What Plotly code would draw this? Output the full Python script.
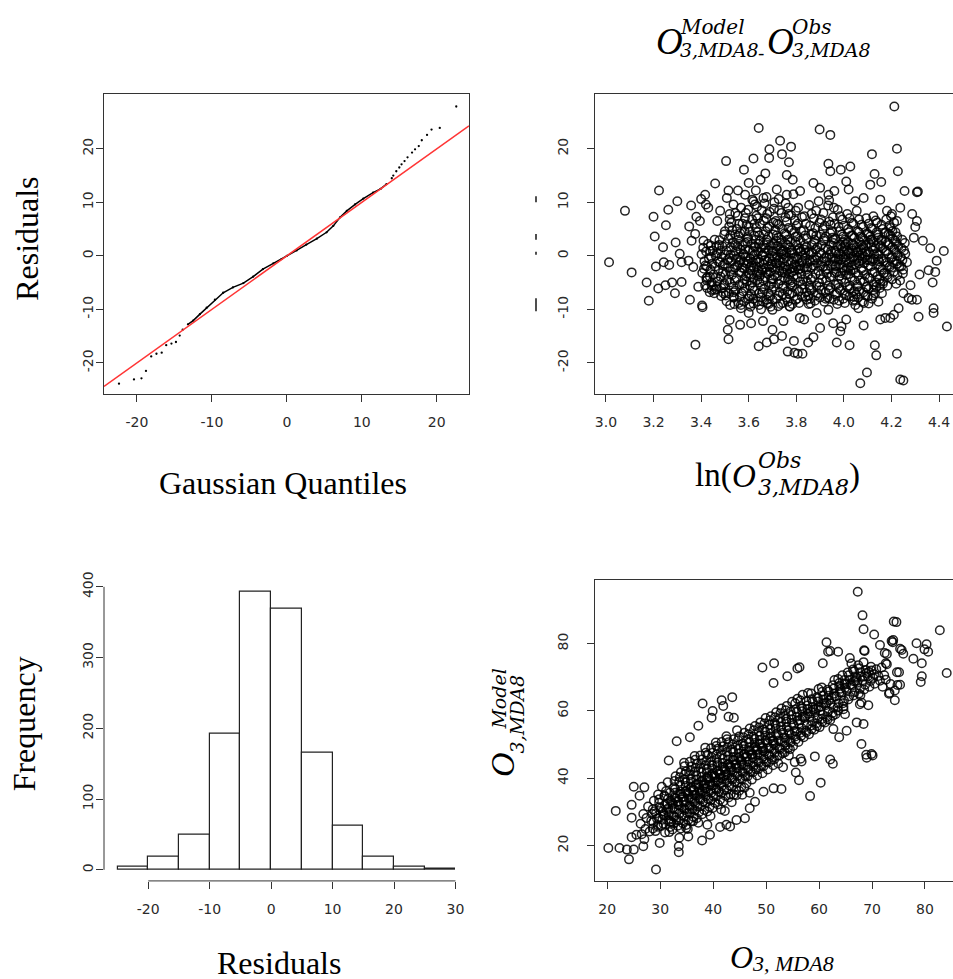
import plotly.graph_objects as go

W, H = 953, 979

# ---------------- data ----------------
# QQ plot: (Gaussian quantile, sorted residual)
qq_points = [
    (-22.4, -23.9), (-20.4, -23.1), (-19.4, -22.9), (-18.8, -21.5), (-18.1, -18.8),
    (-17.4, -18.3), (-16.7, -18.1), (-16.1, -16.7), (-15.4, -16.4), (-14.8, -16.1),
    (-14.3, -14.9), (-13.9, -13.8), (-13.2, -12.8), (-12.5, -12.1), (-11.6, -10.9),
    (-10.7, -9.7), (-9.6, -8.2), (-8.5, -6.9), (-7.2, -5.9), (-5.8, -5.1),
    (-4.5, -3.9), (-3.2, -2.5), (-1.8, -1.4), (-0.7, -0.6), (0.0, 0.0),
    (1.3, 1.0), (2.6, 2.1), (4.0, 3.2), (5.3, 4.4), (6.2, 5.6),
    (7.1, 7.2), (8.0, 8.4), (9.1, 9.6), (10.2, 10.7), (11.5, 11.8),
    (12.5, 12.5), (13.3, 13.4), (14.0, 14.5), (14.2, 15.0), (14.6, 15.8),
    (15.0, 16.5), (15.3, 17.1), (15.7, 17.7), (16.1, 18.4), (16.7, 19.3),
    (17.1, 19.9), (17.6, 20.5), (18.0, 21.6), (18.7, 22.6), (19.3, 23.6),
    (20.4, 23.9), (22.6, 27.9),
]
qq_line_intercept = 0.0
qq_line_slope = 1.0

# Histogram of residuals
hist_edges = [-25, -20, -15, -10, -5, 0, 5, 10, 15, 20, 25, 30]
hist_counts = [4, 18, 49, 193, 393, 369, 166, 62, 18, 5, 1]

# Residuals vs ln(O3 obs): scattered points
resid_outer = [
    (3.013, -1.2), (3.080, 8.4), (3.108, -3.1), (3.171, -5.0), (3.180, -8.4), (3.200, 7.3),
    (3.205, 3.6), (3.210, -2.0), (3.220, -6.1), (3.223, 12.2), (3.240, 1.6), (3.252, 5.7),
    (3.262, 8.6), (3.243, -1.2), (3.250, -5.5), (3.266, -1.7), (3.278, -5.0), (3.290, -7.0),
    (3.293, 2.5), (3.300, 10.2), (3.310, 0.4), (3.318, -1.2), (3.318, -4.9), (3.353, -8.2),
    (3.358, 9.4), (3.350, 5.5), (3.376, -16.6), (3.380, 7.3), (3.400, 10.6), (3.404, -9.3),
    (3.406, -9.6), (3.395, 6.5), (3.420, 9.6), (3.459, 13.5), (3.505, 17.7), (3.515, 12.2),
    (3.515, -15.6), (3.512, -13.8), (3.520, -12.0), (3.522, -9.2), (3.555, 12.2), (3.564, -12.9),
    (3.580, 16.1), (3.600, 13.6), (3.610, -12.6), (3.620, 18.2), (3.630, 12.2), (3.642, 23.9),
    (3.642, -16.9), (3.650, 14.2), (3.660, -12.2), (3.670, 15.4), (3.676, -16.2), (3.687, 19.9),
    (3.686, 18.3), (3.700, -13.8), (3.706, -15.6), (3.732, 21.5), (3.740, 19.0), (3.740, -15.0),
    (3.746, -12.2), (3.769, 17.5), (3.760, 15.1), (3.778, 20.4), (3.785, 14.2), (3.764, -17.9),
    (3.790, -15.9), (3.792, -18.1), (3.806, -18.3), (3.826, -18.3), (3.833, -11.9), (3.850, -16.2),
    (3.872, -15.2), (3.898, 23.6), (3.900, -13.5), (3.935, 17.2), (3.943, 15.8), (3.943, 22.6),
    (3.970, -16.2), (3.987, 16.1), (3.985, -14.1), (4.024, -16.7), (4.027, 16.7), (4.069, -23.8),
    (4.083, -13.0), (4.097, -21.8), (4.118, 19.0), (4.129, 15.3), (4.130, -16.7), (4.136, -18.6),
    (4.157, 13.8), (4.153, -11.9), (4.195, -11.6), (4.212, 27.9), (4.223, 20.0), (4.227, 15.8),
    (4.223, -18.3), (4.237, -23.1), (4.250, -23.3), (4.255, 12.1), (4.307, 11.9), (4.311, 12.0),
    (4.314, -11.4), (4.318, -3.5), (4.332, 2.8), (4.363, 1.4), (4.356, -2.7), (4.373, -5.0),
    (4.377, -9.8), (4.377, -10.7), (4.390, -0.9), (4.384, -3.0), (4.420, 0.9), (4.433, -13.2),
    (4.307, -8.2), (4.286, -8.2), (4.272, -7.9), (4.280, -5.5), (4.294, 3.4), (4.287, 7.8),
    (4.307, 6.5), (4.300, 5.4), (4.237, 9.0), (4.230, -9.8), (4.210, -11.0), (4.220, -5.2),
    (4.250, -7.0), (4.174, -11.6), (4.145, -8.6), (4.104, -8.9), (4.061, -9.8), (4.040, -7.6),
    (4.010, -11.9), (3.990, -13.2), (3.955, -12.6), (3.935, -10.1), (3.886, -10.7), (3.860, -8.9),
    (3.815, -11.6), (3.773, -9.5), (3.700, -10.1), (3.676, -8.2), (3.620, -8.9), (3.600, -10.7),
    (3.567, -9.8), (3.536, -7.6), (3.494, -7.0), (3.466, -5.8), (3.445, -6.4), (3.424, -4.6),
    (3.388, -5.8), (3.367, -2.1), (3.347, -0.9), (3.360, 2.8), (3.375, 4.1), (3.410, 2.8),
    (3.417, 11.4), (3.430, 9.0), (3.480, 8.4), (3.520, 7.8), (3.508, 10.8), (3.536, 9.6),
    (3.585, 11.4), (3.620, 10.2), (3.662, 10.8), (3.718, 12.4), (3.760, 11.4), (3.816, 12.1),
    (3.872, 13.6), (3.900, 12.7), (3.935, 11.4), (3.960, 12.1), (4.010, 13.9), (4.020, 12.4),
    (4.048, 10.2), (4.083, 10.8), (4.111, 13.3), (4.153, 10.5), (4.181, 8.4), (4.202, 7.8),
    (4.223, 6.5), (4.188, 4.1), (4.160, 2.8), (4.202, -0.2), (4.181, -1.8), (4.223, -1.5),
    (4.258, 0.4), (4.265, -1.2), (4.248, -3.3), (4.167, -3.3), (4.153, -5.2), (4.125, -6.4),
]
# Residuals vs ln(O3 obs): dense core, first pass
resid_core = [
    (3.405, -3.2), (3.414, -1.0), (3.409, 1.5), (3.417, -5.5), (3.402, 0.3), (3.412, -2.4),
    (3.426, -4.0), (3.433, -0.5), (3.429, 2.2), (3.436, -6.8), (3.424, -2.0), (3.438, 0.9),
    (3.446, -1.5), (3.452, -3.5), (3.449, 1.0), (3.455, -7.0), (3.444, -5.0), (3.457, 3.0),
    (3.466, 0.5), (3.473, -2.8), (3.469, -4.8), (3.476, 2.0), (3.463, -6.2), (3.471, -1.0), (3.468, 6.5),
    (3.486, -0.2), (3.492, -3.0), (3.489, 1.8), (3.495, -5.5), (3.484, -7.5), (3.497, 4.0), (3.491, -1.8),
    (3.506, 1.0), (3.513, -2.2), (3.509, -4.5), (3.516, 3.2), (3.503, -6.8), (3.511, -0.8), (3.518, 5.5), (3.507, -8.5),
    (3.526, -1.0), (3.533, 2.5), (3.529, -3.6), (3.536, -5.8), (3.524, 0.2), (3.531, 4.8), (3.538, -7.8), (3.527, 6.2), (3.534, -2.5),
    (3.546, 0.8), (3.553, -1.8), (3.549, -4.2), (3.556, 3.0), (3.544, -6.5), (3.551, 5.0), (3.558, -8.8), (3.547, -0.5), (3.554, 7.5), (3.552, 1.8),
    (3.566, -0.8), (3.573, 2.0), (3.569, -3.2), (3.576, -5.2), (3.564, 4.2), (3.571, -7.0), (3.578, 0.4), (3.567, -9.2), (3.574, 6.0), (3.572, -2.2), (3.568, 9.0),
    (3.586, 1.2), (3.593, -1.5), (3.589, -3.8), (3.596, 3.5), (3.584, -6.0), (3.591, 5.8), (3.598, -8.0), (3.587, -0.2), (3.594, 2.6), (3.592, -4.8), (3.588, 8.0),
    (3.606, -0.5), (3.613, 2.2), (3.609, -2.8), (3.616, -5.0), (3.604, 4.5), (3.611, -7.2), (3.618, 0.9), (3.607, -9.5), (3.614, 6.8), (3.612, -1.8), (3.608, -4.0), (3.615, 10.5),
    (3.626, 0.3), (3.633, -2.0), (3.629, 3.0), (3.636, -4.5), (3.624, -6.5), (3.631, 5.2), (3.638, -8.5), (3.627, 1.6), (3.634, -3.2), (3.632, 7.5), (3.628, -0.9), (3.635, 9.2),
    (3.646, -1.2), (3.653, 1.5), (3.649, -3.5), (3.656, -5.8), (3.644, 3.8), (3.651, -7.8), (3.658, 0.0), (3.647, 6.0), (3.654, -2.5), (3.652, -10.0), (3.648, 2.8), (3.655, 8.5),
    (3.666, 0.6), (3.673, -2.2), (3.669, -4.0), (3.676, 2.5), (3.664, -6.2), (3.671, 4.6), (3.678, -8.8), (3.667, -0.8), (3.674, 7.0), (3.672, -3.0), (3.668, 1.4), (3.675, 11.0),
    (3.686, -0.4), (3.693, 1.9), (3.689, -3.0), (3.696, -5.2), (3.684, 3.6), (3.691, -7.5), (3.698, 0.8), (3.687, 5.5), (3.694, -1.6), (3.692, -9.5), (3.688, 8.2), (3.695, -4.4),
    (3.706, 0.9), (3.713, -1.4), (3.709, -3.6), (3.716, 2.8), (3.704, -5.8), (3.711, 4.8), (3.718, -8.0), (3.707, -0.2), (3.714, 6.5), (3.712, -2.6), (3.708, 10.0), (3.715, 1.8),
    (3.726, -0.8), (3.733, 1.2), (3.729, -2.8), (3.736, -4.6), (3.724, 3.4), (3.731, -6.8), (3.738, 0.4), (3.727, 5.8), (3.734, -9.0), (3.732, -1.8), (3.728, 8.5), (3.735, 2.4),
    (3.746, 0.2), (3.753, -2.0), (3.749, -4.2), (3.756, 2.2), (3.744, -6.0), (3.751, 4.2), (3.758, -7.8), (3.747, -0.6), (3.754, 7.2), (3.752, -3.2), (3.748, 1.0), (3.755, 9.8),
    (3.766, -1.0), (3.773, 1.6), (3.769, -3.4), (3.776, -5.4), (3.764, 3.0), (3.771, -7.2), (3.778, 0.6), (3.767, 5.2), (3.774, -2.4), (3.772, -9.4), (3.768, 7.8), (3.775, -4.6),
    (3.786, 0.4), (3.793, -1.6), (3.789, -3.8), (3.796, 2.6), (3.784, -5.8), (3.791, 4.4), (3.798, -8.2), (3.787, -0.4), (3.794, 6.6), (3.792, -2.8), (3.788, 11.5),
    (3.806, -0.6), (3.813, 1.4), (3.809, -2.6), (3.816, -4.8), (3.804, 3.6), (3.811, -6.6), (3.818, 0.8), (3.807, 6.0), (3.814, -1.8), (3.812, -8.8), (3.808, 9.0),
    (3.826, 0.0), (3.833, -2.2), (3.829, -4.4), (3.836, 2.0), (3.824, -6.2), (3.831, 4.8), (3.838, -7.6), (3.827, -1.0), (3.834, 7.4), (3.832, 1.2),
    (3.846, -1.4), (3.853, 0.8), (3.849, -3.6), (3.856, -5.6), (3.844, 3.2), (3.851, -7.4), (3.858, 5.6), (3.847, -2.2), (3.854, 9.5), (3.852, -9.0),
    (3.866, 0.6), (3.873, -1.8), (3.869, -4.0), (3.876, 2.4), (3.864, -6.4), (3.871, 4.2), (3.878, -8.4), (3.867, -0.8), (3.874, 7.0),
    (3.886, -0.2), (3.893, -2.8), (3.889, 1.6), (3.896, -5.0), (3.884, 3.8), (3.891, -7.0), (3.898, 6.2), (3.887, -1.4), (3.894, 10.2),
    (3.906, 0.4), (3.913, -2.0), (3.909, -4.4), (3.916, 2.8), (3.904, -6.4), (3.911, 5.0), (3.918, -8.6), (3.907, -1.0), (3.914, 8.0),
    (3.926, -1.0), (3.933, 1.2), (3.929, -3.4), (3.936, -5.6), (3.924, 3.6), (3.931, -7.8), (3.938, 6.4), (3.927, -0.2), (3.934, 9.4), (3.932, -2.4),
    (3.946, 0.8), (3.953, -1.6), (3.949, -3.8), (3.956, 2.4), (3.944, -6.0), (3.951, 4.6), (3.958, -8.2), (3.947, -0.4), (3.954, 7.2), (3.952, 3.4),
    (3.966, -0.6), (3.973, 1.8), (3.969, -3.0), (3.976, -5.2), (3.964, 3.2), (3.971, -7.0), (3.978, 5.4), (3.967, -1.8), (3.974, 8.6), (3.972, -9.0), (3.968, 0.6),
    (3.986, 0.2), (3.993, -2.2), (3.989, -4.4), (3.996, 2.6), (3.984, -6.4), (3.991, 4.0), (3.998, -8.0), (3.987, -0.8), (3.994, 6.8), (3.992, 1.4), (3.988, -3.2),
    (4.006, -1.2), (4.013, 1.0), (4.009, -3.6), (4.016, -5.8), (4.004, 3.0), (4.011, -7.4), (4.018, 5.0), (4.007, -0.2), (4.014, 7.8), (4.012, -2.4), (4.008, 2.2),
    (4.026, 0.4), (4.033, -1.8), (4.029, -4.0), (4.036, 2.2), (4.024, -6.2), (4.031, 3.8), (4.038, -8.4), (4.027, -0.6), (4.034, 6.2), (4.032, 1.4), (4.028, -2.8),
    (4.046, -0.8), (4.053, 1.6), (4.049, -3.2), (4.056, -5.4), (4.044, 3.4), (4.051, -7.2), (4.058, 4.6), (4.047, -1.6), (4.054, 8.4), (4.052, 0.6), (4.048, -9.2),
    (4.066, 0.0), (4.073, -2.4), (4.069, -4.6), (4.076, 2.0), (4.064, -6.6), (4.071, 3.6), (4.078, -8.6), (4.067, -1.0), (4.074, 5.8), (4.072, 1.2),
    (4.086, -1.4), (4.093, 0.8), (4.089, -3.6), (4.096, -5.8), (4.084, 2.8), (4.091, -7.4), (4.098, 4.2), (4.087, -0.2), (4.094, 7.0), (4.092, 2.0),
    (4.106, 0.6), (4.113, -2.0), (4.109, -4.2), (4.116, 1.8), (4.104, -6.2), (4.111, 3.6), (4.118, -8.0), (4.107, -0.8), (4.114, 5.2), (4.112, 3.0),
    (4.126, -0.6), (4.133, 1.4), (4.129, -3.0), (4.136, -5.0), (4.124, 2.6), (4.131, -7.0), (4.138, 4.4), (4.127, 0.2), (4.134, 6.6),
    (4.146, 0.2), (4.153, -2.2), (4.149, -4.4), (4.156, 1.8), (4.144, 3.4), (4.151, -6.0), (4.158, 5.8), (4.147, -1.0),
    (4.166, -1.0), (4.173, 1.0), (4.169, -3.2), (4.176, 2.6), (4.164, -5.2), (4.171, 4.2), (4.178, 6.8),
    (4.186, 0.4), (4.193, -2.0), (4.189, 2.0), (4.196, 3.8), (4.184, -4.0), (4.191, 5.6), (4.198, 7.4),
    (4.206, -1.2), (4.213, 1.2), (4.209, -3.0), (4.216, 2.8), (4.204, 4.6), (4.211, 6.2),
    (4.226, 0.0), (4.233, -2.0), (4.229, 1.8), (4.236, -4.6), (4.224, 3.6),
    (4.246, -0.8), (4.253, 1.0), (4.249, -2.6), (4.256, 2.4),
]
# Residuals vs ln(O3 obs): dense core, second pass
resid_core2 = [
    (3.418, -1.8), (3.422, -4.2), (3.421, 0.8), (3.425, -6.0),
    (3.439, -2.6), (3.442, -0.2), (3.441, 1.9), (3.445, -5.6), (3.437, -3.9),
    (3.459, -2.0), (3.462, -4.0), (3.461, 0.0), (3.465, 1.8), (3.457, -6.4),
    (3.479, -1.2), (3.482, -3.9), (3.481, 0.9), (3.485, -6.0), (3.477, 2.9),
    (3.499, -1.5), (3.502, -3.4), (3.501, 0.2), (3.505, 2.2), (3.497, -5.2), (3.503, -7.4), (3.500, 4.6),
    (3.519, -0.4), (3.522, -2.9), (3.521, -5.0), (3.525, 1.6), (3.517, -7.0), (3.523, 3.8), (3.520, 6.8),
    (3.539, 0.0), (3.542, -2.2), (3.541, -4.6), (3.545, 2.0), (3.537, -6.8), (3.543, 4.0), (3.540, -9.0), (3.544, 8.0),
    (3.559, -1.2), (3.562, -3.0), (3.561, -5.4), (3.565, 1.2), (3.557, 3.8), (3.563, -7.6), (3.560, 6.0), (3.564, -0.2),
    (3.579, 0.2), (3.582, -2.4), (3.581, -4.4), (3.585, 2.4), (3.577, -6.6), (3.583, 4.6), (3.580, -8.6), (3.584, 7.0), (3.578, -1.2),
    (3.599, -1.0), (3.602, 1.0), (3.601, -3.4), (3.605, -5.6), (3.597, 3.2), (3.603, -7.6), (3.600, 5.4), (3.604, -9.0), (3.598, 8.6), (3.606, -2.2),
    (3.619, 0.0), (3.622, -2.2), (3.621, -4.2), (3.625, 1.8), (3.617, -6.0), (3.623, 3.8), (3.620, -8.0), (3.624, 6.0), (3.618, -1.2), (3.626, 9.6),
    (3.639, -0.6), (3.642, 2.2), (3.641, -2.8), (3.645, -5.0), (3.637, 4.4), (3.643, -7.0), (3.640, 0.8), (3.644, -9.2), (3.638, 7.0), (3.646, -3.8),
    (3.659, 0.2), (3.662, -1.6), (3.661, -4.6), (3.665, 2.0), (3.657, -6.8), (3.663, 4.0), (3.660, -8.6), (3.664, 6.6), (3.658, -2.8), (3.666, 9.8),
    (3.679, -1.0), (3.682, 1.0), (3.681, -3.4), (3.685, -5.6), (3.677, 3.0), (3.683, -7.0), (3.680, 5.2), (3.684, -9.0), (3.678, 7.8), (3.686, -2.0),
    (3.699, 0.0), (3.702, -2.2), (3.701, -4.4), (3.705, 2.2), (3.697, -6.4), (3.703, 4.0), (3.700, -8.2), (3.704, 6.2), (3.698, -1.0), (3.706, 8.8),
    (3.719, -0.2), (3.722, 1.8), (3.721, -3.8), (3.725, -5.2), (3.717, 3.8), (3.723, -7.4), (3.720, 6.0), (3.724, -9.4), (3.718, -1.4), (3.726, 10.6),
    (3.739, 0.8), (3.742, -1.2), (3.741, -3.0), (3.745, -5.6), (3.737, 3.0), (3.743, -7.2), (3.740, 5.0), (3.744, -8.8), (3.738, 8.0), (3.746, -2.4),
    (3.759, -0.2), (3.762, 2.0), (3.761, -2.6), (3.765, -4.4), (3.757, 4.0), (3.763, -6.6), (3.760, 6.4), (3.764, -8.6), (3.758, 0.6), (3.766, 9.0),
    (3.779, 1.0), (3.782, -1.0), (3.781, -3.0), (3.785, -5.0), (3.777, 2.6), (3.783, -7.0), (3.780, 4.8), (3.784, -9.0), (3.778, 7.6), (3.786, -2.2),
    (3.799, -0.2), (3.802, 2.0), (3.801, -2.0), (3.805, -4.0), (3.797, 3.6), (3.803, -6.2), (3.800, 5.6), (3.804, -8.0), (3.798, 8.4), (3.806, 1.0),
    (3.819, 0.8), (3.822, -1.2), (3.821, -3.4), (3.825, -5.4), (3.817, 2.8), (3.823, -7.6), (3.820, 4.6), (3.824, 7.2), (3.818, -2.4),
    (3.839, -0.4), (3.842, 1.6), (3.841, -2.6), (3.845, -4.8), (3.837, 3.8), (3.843, -6.8), (3.840, 6.0), (3.844, -8.2), (3.838, 0.6),
    (3.859, 0.2), (3.862, -2.2), (3.861, -4.4), (3.865, 2.0), (3.857, -6.0), (3.863, 4.0), (3.860, -8.0), (3.864, 7.8), (3.858, -1.0),
    (3.879, -0.8), (3.882, 1.2), (3.881, -3.4), (3.885, -5.6), (3.877, 3.0), (3.883, -7.4), (3.880, 5.2), (3.884, 8.4),
    (3.899, 0.6), (3.902, -1.8), (3.901, -3.6), (3.905, 2.0), (3.897, -5.8), (3.903, 4.0), (3.900, -7.8), (3.904, 6.8),
    (3.919, -0.4), (3.922, -2.6), (3.921, 1.4), (3.925, -4.6), (3.917, 3.2), (3.923, -6.8), (3.920, 5.6), (3.924, -8.0),
    (3.939, 0.2), (3.942, -1.8), (3.941, -4.0), (3.945, 2.0), (3.937, -6.4), (3.943, 4.2), (3.940, -8.0), (3.944, 5.8), (3.938, 10.4),
    (3.959, -1.0), (3.962, 1.0), (3.961, -3.2), (3.965, -5.4), (3.957, 3.0), (3.963, -7.2), (3.960, 6.0), (3.964, -2.0), (3.958, 9.0),
    (3.979, 0.4), (3.982, -1.6), (3.981, -3.8), (3.985, 2.0), (3.977, -6.0), (3.983, 4.6), (3.980, -8.4), (3.984, 7.4), (3.978, -0.6),
    (3.999, -0.4), (4.002, 1.8), (4.001, -2.8), (4.005, -5.0), (3.997, 3.6), (4.003, -7.0), (4.000, 5.6), (4.004, -8.8), (3.998, 0.8),
    (4.019, 0.6), (4.022, -1.2), (4.021, -3.4), (4.025, -5.6), (4.017, 2.6), (4.023, -7.6), (4.020, 4.4), (4.024, 7.0), (4.018, -2.2),
    (4.039, -0.2), (4.042, 2.0), (4.041, -2.6), (4.045, -4.6), (4.037, 3.8), (4.043, -6.6), (4.040, 6.0), (4.044, -8.2), (4.038, 1.0),
    (4.059, 0.8), (4.062, -1.4), (4.061, -3.6), (4.065, 2.6), (4.057, -5.8), (4.063, 4.4), (4.060, -7.8), (4.064, 6.8), (4.058, -0.4),
    (4.079, -0.6), (4.082, 1.6), (4.081, -2.8), (4.085, -4.8), (4.077, 3.4), (4.083, -6.8), (4.080, 5.4), (4.084, -8.8), (4.078, 0.4),
    (4.099, 0.2), (4.102, -1.8), (4.101, -4.0), (4.105, 2.4), (4.097, -5.8), (4.103, 4.0), (4.100, -7.6), (4.104, 6.0), (4.098, -0.8),
    (4.119, -1.0), (4.122, 1.0), (4.121, -3.2), (4.125, -5.4), (4.117, 3.0), (4.123, -7.4), (4.120, 5.0), (4.124, 7.4),
    (4.139, 0.4), (4.142, -1.6), (4.141, -3.8), (4.145, 2.2), (4.137, -5.8), (4.143, 4.0), (4.140, 6.2), (4.144, -0.6),
    (4.159, -0.6), (4.162, 1.4), (4.161, -2.6), (4.165, -4.8), (4.157, 3.0), (4.163, 5.0), (4.160, -7.0),
    (4.179, 0.8), (4.182, -1.2), (4.181, -3.6), (4.185, 2.4), (4.177, 4.4), (4.183, -5.6),
    (4.199, -0.4), (4.202, 1.6), (4.201, -2.2), (4.205, 3.2), (4.197, 5.2), (4.203, -4.4),
    (4.219, 0.6), (4.222, -1.0), (4.221, 2.4), (4.225, -3.6), (4.217, 4.4),
    (4.239, -0.2), (4.242, 1.4), (4.241, -2.0), (4.245, 3.0),
]

# Model vs observed O3 MDA8: scattered points
o3_outer = [
    (67.3, 95.4), (68.2, 88.4), (68.4, 84.3), (74.1, 86.6), (74.6, 86.4), (82.8, 84.0),
    (78.4, 80.1), (80.3, 79.8), (80.6, 77.6), (79.9, 78.3), (77.8, 75.5), (79.4, 74.2),
    (79.4, 70.3), (79.2, 68.6), (84.1, 71.3), (70.4, 82.7), (71.5, 79.6), (74.0, 81.1),
    (73.9, 80.4), (75.6, 78.1), (75.9, 77.0), (72.4, 77.2), (72.6, 74.2), (75.1, 71.5),
    (75.3, 67.8), (74.3, 66.1), (74.3, 63.2), (73.3, 65.4), (72.0, 67.2), (68.6, 77.8),
    (65.8, 75.7), (63.6, 77.6), (61.7, 77.6), (61.4, 80.4), (60.7, 74.2), (67.8, 64.7),
    (68.0, 62.5), (67.7, 62.0), (69.3, 61.7), (68.4, 56.1), (68.0, 50.2), (69.0, 46.1),
    (70.1, 46.8), (67.1, 56.6), (64.6, 60.5), (64.9, 59.0), (63.8, 52.2), (65.2, 54.1),
    (62.7, 54.6), (62.6, 44.3), (62.1, 45.6), (60.3, 38.7), (59.2, 46.5), (58.3, 34.7),
    (56.2, 39.4), (56.7, 45.0), (56.5, 45.8), (55.6, 41.7), (55.4, 44.8), (53.2, 43.3),
    (52.9, 36.8), (51.4, 37.0), (49.5, 36.0), (51.5, 74.2), (49.3, 72.9), (51.4, 68.3),
    (54.0, 70.3), (56.3, 73.0), (55.9, 72.6), (38.0, 62.2), (41.6, 63.2), (43.6, 64.1),
    (41.9, 61.5), (42.9, 58.3), (43.9, 58.0), (39.9, 60.0), (39.7, 58.0), (37.2, 55.6),
    (35.6, 52.2), (33.1, 51.0), (31.6, 45.3), (25.0, 37.5), (27.0, 37.3), (26.1, 34.8),
    (21.6, 30.3), (24.6, 32.1), (24.6, 28.3), (20.2, 19.3), (22.3, 19.3), (23.7, 18.8),
    (24.1, 15.9), (25.0, 18.8), (24.6, 22.5), (25.5, 23.2), (26.8, 19.8), (29.2, 12.9),
    (29.9, 20.8), (33.5, 19.8), (33.5, 18.0), (33.6, 22.3), (35.3, 22.7), (37.9, 21.5),
    (39.4, 23.2), (38.9, 26.2), (41.3, 25.5), (42.5, 26.2), (43.2, 25.7), (44.4, 27.6),
    (46.0, 28.1), (46.9, 31.1), (47.9, 33.0), (46.9, 35.7), (44.4, 35.0), (42.2, 30.3),
    (34.9, 25.2), (36.2, 27.2), (62.1, 77.8), (68.5, 78.0), (73.7, 80.8), (75.3, 78.5),
    (72.8, 76.9), (72.8, 73.9), (74.7, 71.5), (73.5, 68.0), (74.8, 67.7), (73.2, 65.1),
    (69.9, 47.2), (68.9, 47.0),
]
# Model vs observed O3 MDA8: dense core, first pass
o3_core = [
    (26.3, 26.5), (26.5, 23.4), (26.8, 29.4),
    (27.4, 28.2), (27.2, 24.9), (27.7, 31.6), (27.0, 21.9),
    (28.3, 27.4), (28.6, 30.8), (28.0, 24.2), (28.8, 33.3), (28.5, 29.4),
    (29.2, 29.6), (29.5, 26.1), (29.8, 32.7), (29.1, 24.3), (29.6, 35.2), (29.4, 28.0),
    (30.1, 31.0), (30.4, 27.7), (30.8, 34.6), (30.2, 25.8), (30.6, 29.4), (30.3, 37.5), (30.9, 23.9),
    (31.2, 30.6), (31.5, 33.9), (31.8, 27.1), (31.1, 36.2), (31.6, 29.0), (31.4, 38.8), (31.9, 25.5), (31.3, 32.4),
    (32.2, 32.9), (32.5, 28.8), (32.8, 35.7), (32.1, 26.9), (32.6, 37.3), (32.4, 31.2), (32.9, 40.6), (32.3, 24.8), (32.7, 34.3),
    (33.2, 33.0), (33.5, 30.6), (33.8, 36.1), (33.1, 27.6), (33.6, 39.0), (33.4, 32.1), (33.9, 41.8), (33.3, 25.9), (33.7, 35.2),
    (34.2, 34.5), (34.5, 31.0), (34.8, 37.7), (34.1, 28.9), (34.6, 39.6), (34.4, 33.1), (34.9, 42.0), (34.3, 26.6), (34.7, 36.0), (34.5, 44.6),
    (35.2, 35.6), (35.5, 32.0), (35.8, 38.9), (35.1, 29.6), (35.6, 40.9), (35.4, 34.0), (35.9, 43.5), (35.3, 27.6), (35.7, 37.0), (35.5, 30.9), (35.2, 24.9),
    (36.2, 36.5), (36.5, 33.2), (36.8, 39.6), (36.1, 30.8), (36.6, 41.9), (36.4, 35.1), (36.9, 44.4), (36.3, 28.5), (36.7, 38.1), (36.5, 46.6), (36.0, 33.9),
    (37.2, 38.3), (37.5, 34.1), (37.8, 40.4), (37.1, 31.6), (37.6, 43.0), (37.4, 36.2), (37.9, 45.6), (37.3, 29.9), (37.7, 39.0), (37.5, 35.4), (37.2, 26.8),
    (38.2, 37.8), (38.5, 35.9), (38.8, 41.8), (38.1, 33.0), (38.6, 43.9), (38.4, 37.0), (38.9, 47.0), (38.3, 30.6), (38.7, 40.0), (38.5, 49.1), (38.0, 36.2),
    (39.2, 39.9), (39.5, 36.4), (39.8, 42.9), (39.1, 33.8), (39.6, 44.8), (39.4, 38.1), (39.9, 47.6), (39.3, 31.5), (39.7, 41.0), (39.5, 28.8), (39.0, 40.6),
    (40.2, 40.8), (40.5, 37.0), (40.8, 43.9), (40.1, 34.6), (40.6, 45.8), (40.4, 39.0), (40.9, 48.8), (40.3, 32.7), (40.7, 42.3), (40.5, 50.6), (40.0, 38.0),
    (41.2, 41.3), (41.5, 38.6), (41.8, 44.5), (41.1, 35.9), (41.6, 46.9), (41.4, 40.1), (41.9, 49.5), (41.3, 33.6), (41.7, 43.4), (41.5, 30.7), (41.0, 39.2),
    (42.2, 42.7), (42.5, 39.4), (42.8, 45.6), (42.1, 36.5), (42.6, 47.8), (42.4, 41.1), (42.9, 50.7), (42.3, 34.8), (42.7, 44.0), (42.5, 52.5), (42.0, 40.5),
    (43.2, 43.6), (43.5, 40.2), (43.8, 46.3), (43.1, 37.8), (43.6, 48.5), (43.4, 42.3), (43.9, 51.6), (43.3, 35.2), (43.7, 45.4), (43.5, 32.9),
    (44.2, 44.1), (44.5, 41.5), (44.8, 47.4), (44.1, 38.8), (44.6, 49.7), (44.4, 43.0), (44.9, 52.4), (44.3, 36.6), (44.7, 46.1), (44.5, 54.3),
    (45.2, 45.5), (45.5, 42.1), (45.8, 48.6), (45.1, 39.7), (45.6, 50.3), (45.4, 44.2), (45.9, 53.5), (45.3, 37.4), (45.7, 47.0), (45.5, 35.1),
    (46.2, 46.4), (46.5, 43.3), (46.8, 49.2), (46.1, 40.6), (46.6, 51.6), (46.4, 45.0), (46.9, 54.8), (46.3, 38.5), (46.7, 48.1),
    (47.2, 47.1), (47.5, 44.6), (47.8, 50.5), (47.1, 41.9), (47.6, 52.3), (47.4, 46.2), (47.9, 55.5), (47.3, 39.6), (47.7, 49.0),
    (48.2, 48.6), (48.5, 45.2), (48.8, 51.4), (48.1, 42.7), (48.6, 53.8), (48.4, 47.1), (48.9, 56.6), (48.3, 40.8), (48.7, 50.1),
    (49.2, 49.4), (49.5, 46.5), (49.8, 52.6), (49.1, 43.6), (49.6, 54.5), (49.4, 48.2), (49.9, 57.9), (49.3, 41.5),
    (50.2, 50.7), (50.5, 47.1), (50.8, 53.3), (50.1, 44.8), (50.6, 55.9), (50.4, 49.0), (50.9, 58.4), (50.3, 42.6), (50.7, 51.8),
    (51.2, 51.2), (51.5, 48.4), (51.8, 54.7), (51.1, 45.5), (51.6, 56.4), (51.4, 50.3), (51.9, 59.6), (51.3, 43.9),
    (52.2, 52.8), (52.5, 49.1), (52.8, 55.4), (52.1, 46.7), (52.6, 57.8), (52.4, 51.2), (52.9, 60.7), (52.3, 44.4),
    (53.2, 53.5), (53.5, 50.6), (53.8, 56.8), (53.1, 47.4), (53.6, 58.6), (53.4, 52.1), (53.9, 61.5),
    (54.2, 54.2), (54.5, 51.3), (54.8, 57.5), (54.1, 48.9), (54.6, 59.8), (54.4, 53.4), (54.9, 62.7), (54.3, 46.8),
    (55.2, 55.8), (55.5, 52.4), (55.8, 58.3), (55.1, 49.6), (55.6, 60.5), (55.4, 54.0), (55.9, 63.6),
    (56.2, 56.3), (56.5, 53.5), (56.8, 59.9), (56.1, 50.8), (56.6, 61.4), (56.4, 57.2), (56.9, 64.8),
    (57.2, 57.9), (57.5, 54.1), (57.8, 60.6), (57.1, 52.2), (57.6, 62.9), (57.4, 58.5), (57.9, 65.3),
    (58.2, 58.4), (58.5, 55.7), (58.8, 61.2), (58.1, 53.1), (58.6, 63.5), (58.4, 59.8),
    (59.2, 59.6), (59.5, 56.3), (59.8, 62.8), (59.1, 54.4), (59.6, 64.1), (59.4, 60.7), (59.9, 66.5),
    (60.2, 60.1), (60.5, 57.6), (60.8, 63.4), (60.1, 55.2), (60.6, 65.7), (60.4, 61.3),
    (61.2, 61.7), (61.5, 58.2), (61.8, 64.5), (61.1, 56.6), (61.6, 66.3), (61.4, 62.4),
    (62.2, 62.3), (62.5, 59.4), (62.8, 65.1), (62.1, 57.3), (62.6, 67.6), (62.4, 63.9), (62.9, 69.2),
    (63.2, 64.3), (63.5, 61.1), (63.8, 67.4), (63.1, 59.0), (63.6, 69.5),
    (64.2, 65.4), (64.5, 62.3), (64.8, 68.1), (64.4, 70.6), (64.1, 66.6),
    (65.2, 66.2), (65.5, 63.4), (65.8, 69.3), (65.4, 71.4), (65.1, 67.9),
    (66.2, 67.5), (66.5, 64.6), (66.8, 70.2), (66.4, 72.3), (66.1, 74.1), (66.6, 68.8),
    (67.2, 68.4), (67.5, 65.2), (67.8, 71.5), (67.4, 73.6), (67.1, 69.9),
    (68.2, 69.1), (68.5, 66.4), (68.8, 72.2), (68.4, 74.5), (68.6, 70.3),
    (69.2, 70.3), (69.5, 67.2), (69.8, 73.1), (69.4, 71.6),
    (70.2, 69.8), (70.5, 68.1), (70.8, 72.4), (70.4, 70.9),
    (71.2, 70.4), (71.5, 69.0), (71.8, 72.9),
    (72.3, 70.6), (72.6, 69.3),
]
# Model vs observed O3 MDA8: dense core, second pass
o3_core2 = [
    (28.7, 27.0), (28.9, 30.2), (28.6, 25.1),
    (29.7, 28.2), (29.9, 31.4), (29.6, 25.6), (29.8, 33.8),
    (30.7, 28.9), (30.9, 32.1), (30.6, 26.5), (30.8, 34.9), (30.5, 30.2),
    (31.7, 29.8), (31.9, 33.3), (31.6, 27.6), (31.8, 35.7), (31.5, 31.1), (31.7, 24.0),
    (32.7, 30.9), (32.9, 34.0), (32.6, 28.5), (32.8, 36.8), (32.5, 26.6), (32.7, 39.2), (32.4, 32.4),
    (33.7, 31.8), (33.9, 35.3), (33.6, 29.5), (33.8, 37.9), (33.5, 27.6), (33.7, 40.3), (33.4, 33.2), (33.9, 25.1),
    (34.7, 33.0), (34.9, 36.2), (34.6, 30.6), (34.8, 38.8), (34.5, 28.7), (34.7, 41.3), (34.4, 34.4), (34.9, 26.1), (34.6, 43.6),
    (35.7, 33.8), (35.9, 37.4), (35.6, 31.7), (35.8, 39.8), (35.5, 29.8), (35.7, 42.2), (35.4, 35.1), (35.9, 27.3), (35.6, 44.9),
    (36.7, 34.9), (36.9, 38.2), (36.6, 32.5), (36.8, 40.9), (36.5, 30.6), (36.7, 43.1), (36.4, 36.4), (36.9, 28.1), (36.6, 45.5),
    (37.7, 35.8), (37.9, 39.3), (37.6, 33.6), (37.8, 41.8), (37.5, 31.7), (37.7, 44.4), (37.4, 37.2), (37.9, 29.3), (37.6, 46.8),
    (38.7, 36.9), (38.9, 40.1), (38.6, 34.7), (38.8, 42.8), (38.5, 32.8), (38.7, 45.2), (38.4, 38.4), (38.9, 30.1), (38.6, 47.6),
    (39.7, 37.8), (39.9, 41.4), (39.6, 35.6), (39.8, 43.9), (39.5, 33.5), (39.7, 46.3), (39.4, 39.1), (39.9, 31.2), (39.6, 48.9),
    (40.7, 38.9), (40.9, 42.1), (40.6, 36.6), (40.8, 44.7), (40.5, 34.8), (40.7, 47.1), (40.4, 40.3), (40.9, 32.2), (40.6, 49.6),
    (41.7, 39.8), (41.9, 43.3), (41.6, 37.6), (41.8, 45.8), (41.5, 35.7), (41.7, 48.4), (41.4, 41.2), (41.9, 33.1), (41.6, 50.8),
    (42.7, 40.9), (42.9, 44.2), (42.6, 38.7), (42.8, 46.7), (42.5, 36.6), (42.7, 49.2), (42.4, 42.1), (42.9, 34.3), (42.6, 51.6),
    (43.7, 41.8), (43.9, 45.4), (43.6, 39.6), (43.8, 47.9), (43.5, 37.7), (43.7, 50.1), (43.4, 43.2), (43.9, 35.1),
    (44.7, 42.9), (44.9, 46.1), (44.6, 40.7), (44.8, 48.8), (44.5, 38.6), (44.7, 51.3), (44.4, 44.4), (44.9, 36.3),
    (45.7, 43.8), (45.9, 47.3), (45.6, 41.6), (45.8, 49.6), (45.5, 39.8), (45.7, 52.2), (45.4, 45.1), (45.9, 37.2),
    (46.7, 44.9), (46.9, 48.2), (46.6, 42.5), (46.8, 50.8), (46.5, 40.6), (46.7, 53.1), (46.4, 46.4),
    (47.7, 45.8), (47.9, 49.4), (47.6, 43.6), (47.8, 51.7), (47.5, 41.8), (47.7, 54.3), (47.4, 47.2),
    (48.7, 46.9), (48.9, 50.3), (48.6, 44.6), (48.8, 52.6), (48.5, 42.7), (48.7, 55.1), (48.4, 48.4),
    (49.7, 47.8), (49.9, 51.2), (49.6, 45.7), (49.8, 53.8), (49.5, 43.6), (49.7, 56.3), (49.4, 49.1),
    (50.7, 48.9), (50.9, 52.4), (50.6, 46.6), (50.8, 54.6), (50.5, 44.7), (50.7, 57.2),
    (51.7, 49.8), (51.9, 53.1), (51.6, 47.5), (51.8, 55.8), (51.5, 45.6), (51.7, 58.1), (51.4, 51.2),
    (52.7, 50.9), (52.9, 54.3), (52.6, 48.6), (52.8, 56.7), (52.5, 46.8), (52.7, 59.3),
    (53.7, 51.8), (53.9, 55.2), (53.6, 49.7), (53.8, 57.6), (53.5, 47.7), (53.7, 60.2),
    (54.7, 52.9), (54.9, 56.4), (54.6, 50.6), (54.8, 58.8), (54.5, 48.6),
    (55.7, 53.8), (55.9, 57.1), (55.6, 51.5), (55.8, 59.7), (55.5, 62.3),
    (56.7, 54.9), (56.9, 58.3), (56.6, 52.6), (56.8, 60.8), (56.5, 63.1),
    (57.7, 55.8), (57.9, 59.2), (57.6, 53.7), (57.8, 61.6),
    (58.7, 56.9), (58.9, 60.4), (58.6, 54.6), (58.8, 62.7), (58.5, 65.2),
    (59.7, 57.8), (59.9, 61.1), (59.6, 55.5), (59.8, 63.8),
    (60.7, 58.9), (60.9, 62.3), (60.6, 56.8), (60.8, 64.6), (60.5, 67.0),
    (61.7, 59.8), (61.9, 63.2), (61.6, 57.5), (61.8, 65.8),
    (62.7, 61.0), (62.9, 64.4), (62.6, 58.6), (62.8, 66.7),
    (63.7, 62.2), (63.9, 65.6), (63.6, 60.1), (63.8, 68.3),
    (64.7, 63.1), (64.9, 66.9), (64.6, 61.3), (64.8, 69.2),
    (65.7, 64.4), (65.9, 67.8), (65.6, 70.6),
    (66.7, 65.6), (66.9, 69.0), (66.6, 71.8),
    (67.7, 66.6), (67.9, 70.2), (67.6, 72.7),
    (68.7, 67.8), (68.9, 71.3),
    (69.7, 68.9), (69.9, 72.0),
]

# tick values
qq_xticks = [-20, -10, 0, 10, 20]
qq_yticks = [-20, -10, 0, 10, 20]
lnobs_xticks = [3.0, 3.2, 3.4, 3.6, 3.8, 4.0, 4.2, 4.4]
resid_yticks = [-20, -10, 0, 10, 20]
hist_xticks = [-20, -10, 0, 10, 20, 30]
hist_yticks = [0, 100, 200, 300, 400]
obs_xticks = [20, 30, 40, 50, 60, 70, 80]
model_yticks = [20, 40, 60, 80]

# ---------------- helpers ----------------
def fx(px):
    return px / W


def fy(py):
    return 1 - py / H


AX_COLOR = "#333333"
TICK_FONT = dict(family="DejaVu Sans", size=14, color="#2a2a2a")


def labels(ticks, fmt="{:g}"):
    return [fmt.format(t) for t in ticks]


def xaxis(dom, rng, ticks, anchor, line=True, mirror=False, fmt="{:g}", standoff=8):
    return dict(domain=dom, range=rng, tickmode="array", tickvals=ticks,
                ticktext=labels(ticks, fmt), anchor=anchor,
                ticks="outside", ticklen=7, tickwidth=1, tickcolor=AX_COLOR,
                showline=line, mirror=mirror, linecolor=AX_COLOR, linewidth=1,
                showgrid=False, zeroline=False, tickfont=TICK_FONT,
                ticklabelstandoff=standoff, fixedrange=True)


def yaxis(dom, rng, ticks, anchor, line=True, mirror=False, standoff=2):
    return dict(domain=dom, range=rng, tickmode="array", tickvals=ticks,
                ticktext=labels(ticks), anchor=anchor,
                ticks="outside", ticklen=7, tickwidth=1, tickcolor=AX_COLOR,
                showline=line, mirror=mirror, linecolor=AX_COLOR, linewidth=1,
                showgrid=False, zeroline=False, tickfont=TICK_FONT,
                tickangle=-90, ticklabelstandoff=standoff, fixedrange=True)


# panel geometry (pixels)
L_X = [fx(104), fx(469)]
R_X = [fx(595), 1.0]
T_Y = [fy(389), fy(86)]
BL_Y = [fy(880), fy(577)]
BR_Y = [fy(880), fy(576)]

qq_xrange = [-24.4, 24.3]
qq_yrange = [-25.9, 30.2]

fig = go.Figure()

# ---- QQ plot ----
central = [p for p in qq_points if abs(p[0]) <= 13.4]
fig.add_trace(go.Scatter(x=[p[0] for p in central], y=[p[1] for p in central],
                         mode="lines", line=dict(color="black", width=1.5),
                         xaxis="x", yaxis="y", hoverinfo="skip"))
fig.add_trace(go.Scatter(x=[p[0] for p in qq_points], y=[p[1] for p in qq_points],
                         mode="markers", marker=dict(color="black", size=2.3),
                         xaxis="x", yaxis="y"))
fig.add_trace(go.Scatter(x=qq_xrange,
                         y=[qq_line_intercept + qq_line_slope * v for v in qq_xrange],
                         mode="lines", line=dict(color="#ff3535", width=1.6),
                         xaxis="x", yaxis="y", hoverinfo="skip"))

CIRCLE = dict(symbol="circle-open", size=8.5, color="rgba(0,0,0,0.85)", line=dict(width=1.5))

# ---- residuals vs ln(obs) ----
pts = resid_outer + resid_core + resid_core2
fig.add_trace(go.Scatter(x=[p[0] for p in pts], y=[p[1] for p in pts], mode="markers",
                         marker=CIRCLE, xaxis="x2", yaxis="y2"))

# ---- histogram ----
centers = [(hist_edges[i] + hist_edges[i + 1]) / 2 for i in range(len(hist_counts))]
widths = [hist_edges[i + 1] - hist_edges[i] for i in range(len(hist_counts))]
fig.add_trace(go.Bar(x=centers, y=hist_counts, width=widths,
                     marker=dict(color="white", line=dict(color="#222222", width=1.2)),
                     xaxis="x3", yaxis="y3"))

# ---- model vs obs ----
pts2 = o3_outer + o3_core + o3_core2
fig.add_trace(go.Scatter(x=[p[0] for p in pts2], y=[p[1] for p in pts2], mode="markers",
                         marker=CIRCLE, xaxis="x4", yaxis="y4"))

layout = dict(
    width=W, height=H, margin=dict(l=0, r=0, t=0, b=0, pad=0),
    paper_bgcolor="white", plot_bgcolor="white", showlegend=False,
    bargap=0,
    xaxis=xaxis(L_X, qq_xrange, qq_xticks, "y", mirror=True),
    yaxis=yaxis(T_Y, qq_yrange, qq_yticks, "x", mirror=True, standoff=-3),
    xaxis2=xaxis(R_X, [2.954, 4.4586], lnobs_xticks, "y2", mirror=True, fmt="{:.1f}"),
    yaxis2=yaxis(T_Y, qq_yrange, resid_yticks, "x2", standoff=13),
    xaxis3=xaxis(L_X, [-27.2, 32.2], hist_xticks, "y3", line=False),
    yaxis3=yaxis(BL_Y, [-15.7, 408.7], hist_yticks, "x3", line=False, standoff=-3),
    xaxis4=xaxis(R_X, [17.68, 85.29], obs_xticks, "y4", mirror=True),
    yaxis4=yaxis(BR_Y, [9.5, 99.0], model_yticks, "x4", standoff=13),
)

shapes = [
    # histogram axis lines (span first..last tick, R style)
    dict(type="line", xref="x3", yref="y3 domain", x0=hist_xticks[0], x1=hist_xticks[-1],
         y0=0, y1=0, line=dict(color=AX_COLOR, width=1)),
    dict(type="line", xref="x3 domain", yref="y3", x0=0, x1=0, y0=hist_yticks[0],
         y1=hist_yticks[-1], line=dict(color=AX_COLOR, width=1)),
]
# remnants of the hidden y-axis title of the top-right panel
for (a, b) in [(189, 195), (227, 233), (245, 248), (292, 305)]:
    shapes.append(dict(type="line", xref="paper", yref="paper", x0=fx(536), x1=fx(536),
                       y0=fy(a), y1=fy(b), line=dict(color="#222222", width=1.6)))
layout["shapes"] = shapes

SERIF = "Liberation Serif"
MATH = "DejaVu Serif"
anns = []


def ann(x, y, text, size, family=SERIF, angle=0, xanchor="center", yanchor="middle"):
    anns.append(dict(x=fx(x), y=fy(y), xref="paper", yref="paper", text=text,
                     showarrow=False, textangle=angle, xanchor=xanchor, yanchor=yanchor,
                     font=dict(family=family, size=size, color="black"), borderpad=0))


# plain titles
ann(27, 232, "Residuals", 32, angle=-90)
ann(283, 478, "Gaussian Quantiles", 32)
ann(24, 722, "Frequency", 32, angle=-90)
ann(279, 963, "Residuals", 32)

# title of top-right panel: O3,MDA8^Model - O3,MDA8^Obs
ann(655, 33, "<i>O</i>", 37, xanchor="left")
ann(679, 18, "<i>Model</i>", 20, family=MATH, xanchor="left")
ann(679, 41, "<i>3,MDA8</i>", 19, family=MATH, xanchor="left")
ann(757, 44, "-", 19, family=MATH, xanchor="left")
ann(766, 33, "<i>O</i>", 37, xanchor="left")
ann(791, 18, "<i>Obs</i>", 20, family=MATH, xanchor="left")
ann(791, 41, "<i>3,MDA8</i>", 19, family=MATH, xanchor="left")

# x title of top-right panel: ln(O3,MDA8^Obs)
ann(694, 471, "ln(", 33, xanchor="left")
ann(731, 471, "<i>O</i>", 33, xanchor="left")
ann(757, 456, "<i>Obs</i>", 22, family=MATH, xanchor="left")
ann(757, 483, "<i>3,MDA8</i>", 22, family=MATH, xanchor="left")
ann(848, 471, ")", 33, xanchor="left")

# y title of bottom-right panel (rotated)
ann(503, 763, "<i>O</i>", 34, angle=-90)
ann(499, 697, "<i>Model</i>", 19, family=MATH, angle=-90)
ann(517, 712, "<i>3,MDA8</i>", 19, family=MATH, angle=-90)

# x title of bottom-right panel
ann(741, 957, "<i>O</i>", 32)
ann(751, 963, "<i>3, MDA8</i>", 22, xanchor="left")

layout["annotations"] = anns
fig.update_layout(**layout)
fig.write_html("out.html", config={"displayModeBar": False},
               post_script="document.body.style.margin='0';document.body.style.overflow='hidden';")
